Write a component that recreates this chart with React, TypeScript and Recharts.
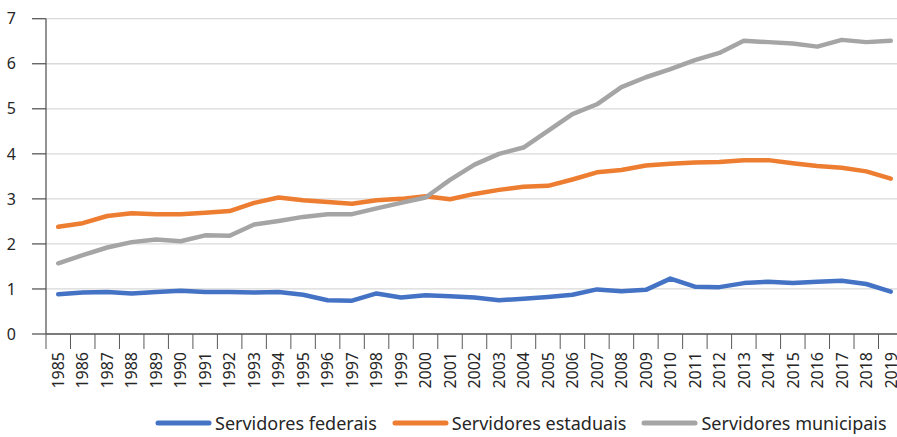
import React from 'react';
import { LineChart, Line, XAxis, YAxis, CartesianGrid, Legend } from 'recharts';

const years = [
  '1985', '1986', '1987', '1988', '1989', '1990', '1991', '1992', '1993', '1994',
  '1995', '1996', '1997', '1998', '1999', '2000', '2001', '2002', '2003', '2004',
  '2005', '2006', '2007', '2008', '2009', '2010', '2011', '2012', '2013', '2014',
  '2015', '2016', '2017', '2018', '2019',
];

const federais = [
  0.88, 0.92, 0.93, 0.9, 0.93, 0.96, 0.93, 0.93, 0.92, 0.93,
  0.87, 0.75, 0.74, 0.9, 0.81, 0.86, 0.84, 0.81, 0.75, 0.78,
  0.82, 0.87, 0.99, 0.95, 0.98, 1.23, 1.05, 1.04, 1.13, 1.16,
  1.13, 1.16, 1.18, 1.11, 0.94,
];

const estaduais = [
  2.38, 2.46, 2.62, 2.68, 2.66, 2.66, 2.69, 2.73, 2.91, 3.03,
  2.97, 2.93, 2.89, 2.97, 3.0, 3.06, 2.99, 3.11, 3.2, 3.27,
  3.29, 3.43, 3.59, 3.64, 3.74, 3.78, 3.81, 3.82, 3.86, 3.86,
  3.79, 3.73, 3.69, 3.61, 3.45,
];

const municipais = [
  1.57, 1.75, 1.92, 2.04, 2.1, 2.06, 2.19, 2.18, 2.43, 2.51,
  2.6, 2.66, 2.66, 2.79, 2.91, 3.03, 3.42, 3.76, 4.0, 4.14,
  4.51, 4.88, 5.1, 5.48, 5.7, 5.88, 6.08, 6.24, 6.51, 6.48,
  6.45, 6.38, 6.53, 6.48, 6.51,
];

const yTicks = [0, 1, 2, 3, 4, 5, 6, 7];

const series = [
  { key: 'federais', name: 'Servidores federais', color: '#4472C4' },
  { key: 'estaduais', name: 'Servidores estaduais', color: '#ED7D31' },
  { key: 'municipais', name: 'Servidores municipais', color: '#A5A5A5' },
];

const data = years.map((year, i) => ({
  year,
  federais: federais[i],
  estaduais: estaduais[i],
  municipais: municipais[i],
}));

const FONT = '"Noto Sans", "Open Sans", sans-serif';
const AXIS = '#595959';
const TEXT = '#262626';

const CHART_W = 910;
const CHART_H = 437;
const PLOT_LEFT = 46;
const PLOT_RIGHT = 7;
const PLOT_W = CHART_W - PLOT_LEFT - PLOT_RIGHT;
const STEP = PLOT_W / years.length;

// year label rotated, with a tick mark on the left edge of each category
const YearTick = (props: any) => {
  const { x, y, payload } = props;
  const left = x - STEP / 2;
  return (
    <g>
      <line x1={left} y1={y} x2={left} y2={y + 15} stroke={AXIS} strokeWidth={1} />
      <text
        transform={`translate(${x}, ${y + 18}) rotate(-90)`}
        textAnchor="end"
        dy="0.36em"
        fontSize={16}
        fontFamily={FONT}
        fill={TEXT}
      >
        {payload.value}
      </text>
    </g>
  );
};

const LegendContent = () => (
  <div
    style={{
      display: 'flex',
      alignItems: 'center',
      fontFamily: FONT,
      fontSize: 18,
      lineHeight: '16px',
      color: TEXT,
      whiteSpace: 'nowrap',
    }}
  >
    {series.map((s) => (
      <div key={s.key} style={{ display: 'flex', alignItems: 'center', marginRight: 15 }}>
        <svg width={57} height={8} style={{ marginRight: 3 }}>
          <line x1={3} y1={4} x2={54} y2={4} stroke={s.color} strokeWidth={5} strokeLinecap="round" />
        </svg>
        <span>{s.name}</span>
      </div>
    ))}
  </div>
);

export default function App() {
  return (
    <div style={{ position: 'absolute', left: 0, top: 0, width: 897, height: 437, overflow: 'hidden', background: '#fff' }}>
      <LineChart
        width={CHART_W}
        height={CHART_H}
        data={data}
        margin={{ top: 18.7, right: PLOT_RIGHT, bottom: 43, left: 0 }}
      >
        <CartesianGrid vertical={false} stroke="#d9d9d9" strokeWidth={1.3} />
        <XAxis
          dataKey="year"
          interval={0}
          height={60}
          padding={{ left: STEP / 2, right: STEP / 2 }}
          axisLine={{ stroke: AXIS, strokeWidth: 1.3 }}
          tickLine={false}
          tickSize={0}
          tickMargin={0}
          tick={<YearTick />}
        />
        <YAxis
          width={PLOT_LEFT}
          domain={[0, 7]}
          ticks={yTicks}
          interval={0}
          axisLine={{ stroke: AXIS, strokeWidth: 1.3 }}
          tickLine={{ stroke: AXIS, strokeWidth: 1.3 }}
          tickSize={14}
          tickMargin={16}
          tick={{ fontSize: 16, fontFamily: FONT, fill: TEXT }}
        />
        <Legend
          layout="horizontal"
          verticalAlign="middle"
          align="center"
          wrapperStyle={{ left: 155, top: 415, width: 760 }}
          content={<LegendContent />}
        />
        {series.map((s) => (
          <Line
            key={s.key}
            type="linear"
            dataKey={s.key}
            name={s.name}
            stroke={s.color}
            strokeWidth={4.5}
            strokeLinecap="round"
            strokeLinejoin="round"
            dot={false}
            activeDot={false}
            isAnimationActive={false}
          />
        ))}
      </LineChart>
    </div>
  );
}
